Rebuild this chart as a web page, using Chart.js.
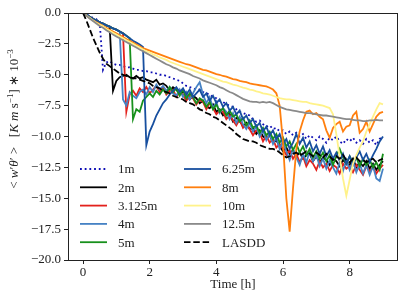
<!DOCTYPE html>
<html><head><meta charset="utf-8">
<script src="https://cdn.jsdelivr.net/npm/chart.js@4/dist/chart.umd.min.js"></script>
<style>html,body{margin:0;padding:0;background:#fff}#wrap{width:407px;height:305px}</style>
</head><body><div id="wrap"><canvas id="c" width="407" height="305"></canvas></div>
<script>
const hours = [0,0.1,0.2,0.3,0.4,0.5,0.6,0.7,0.8,0.9,
 1.0,1.1,1.2,1.3,1.4,1.5,1.6,1.7,1.8,1.9,
 2.0,2.1,2.2,2.3,2.4,2.5,2.6,2.7,2.8,2.9,
 3.0,3.1,3.2,3.3,3.4,3.5,3.6,3.7,3.8,3.9,
 4.0,4.1,4.2,4.3,4.4,4.5,4.6,4.7,4.8,4.9,
 5.0,5.1,5.2,5.3,5.4,5.5,5.6,5.7,5.8,5.9,
 6.0,6.1,6.2,6.3,6.4,6.5,6.6,6.7,6.8,6.9,
 7.0,7.1,7.2,7.3,7.4,7.5,7.6,7.7,7.8,7.9,
 8.0,8.1,8.2,8.3,8.4,8.5,8.6,8.7,8.8,8.9,
 9.0];

const s1m = [0,-0.1,-0.25,-0.4,-0.5,-0.7,-4.6,-4.0,-3.9,-4.1,
 -4.2,-4.2,-4.3,-4.4,-4.4,-4.5,-4.6,-4.6,-4.7,-4.7,
 -4.8,-4.8,-4.9,-5.0,-5.0,-5.1,-5.2,-5.3,-5.4,-5.5,
 -5.7,-5.9,-6.0,-6.1,-6.2,-6.2,-6.4,-6.5,-6.6,-6.8,
 -6.9,-7.1,-7.2,-7.4,-7.5,-7.6,-7.8,-8.0,-8.1,-8.2,
 -8.3,-8.6,-8.8,-8.7,-9.0,-9.2,-9.1,-9.4,-9.3,-9.6,
 -9.5,-9.8,-9.6,-9.9,-9.7,-10.0,-9.8,-10.2,-9.9,-10.1,
 -10.3,-10.0,-10.2,-10.5,-10.1,-10.3,-10.0,-10.4,-10.6,-10.2,
 -10.4,-10.1,-10.5,-10.3,-10.6,-10.2,-10.5,-10.3,-10.7,-10.2,
 -10.0];

const s2m = [0,-0.15,-0.3,-0.5,-0.6,-0.75,-0.85,-1.0,-1.1,-6.3,
 -5.5,-5.2,-5.1,-5.0,-5.2,-5.3,-5.1,-5.3,-5.2,-5.4,
 -5.5,-5.6,-5.4,-5.8,-5.7,-5.9,-6.3,-6.0,-6.2,-6.6,
 -6.4,-6.5,-7.0,-6.7,-6.9,-7.3,-7.1,-7.6,-7.7,-7.4,
 -8.0,-7.8,-8.3,-8.1,-8.2,-8.8,-8.5,-8.7,-9.2,-8.9,
 -9.4,-9.3,-9.8,-9.5,-10.0,-10.2,-9.9,-10.5,-10.3,-10.8,
 -11.2,-10.9,-11.4,-11.1,-11.6,-11.3,-11.8,-11.5,-11.4,-12.0,
 -11.6,-12.1,-11.7,-11.9,-12.3,-11.8,-12.0,-12.4,-11.9,-12.2,
 -12.3,-11.8,-12.5,-12.1,-12.4,-12.0,-12.6,-12.2,-12.7,-12.3,
 -12.0];

const s3125m = [0,-0.15,-0.3,-0.5,-0.6,-0.75,-0.85,-1.0,-1.1,-1.25,
 -1.35,-1.5,-1.65,-8.0,-6.6,-6.3,-6.7,-6.1,-6.4,-6.0,
 -6.5,-6.2,-5.9,-6.4,-6.0,-6.6,-6.3,-6.2,-6.8,-6.4,
 -6.6,-7.1,-6.7,-6.9,-7.4,-7.0,-7.2,-7.8,-7.3,-7.7,
 -8.2,-7.9,-8.0,-8.6,-8.3,-8.7,-9.1,-8.6,-9.3,-9.0,
 -9.4,-9.9,-9.5,-9.7,-10.4,-9.9,-10.5,-10.2,-10.9,-10.6,
 -11.0,-11.5,-11.1,-11.8,-11.4,-12.1,-11.6,-12.4,-11.9,-12.2,
 -12.7,-12.0,-12.5,-12.2,-12.8,-12.3,-12.5,-13.0,-12.2,-12.6,
 -12.4,-12.9,-12.3,-12.7,-13.1,-12.4,-12.8,-12.5,-13.0,-12.6,
 -12.3];

const s4m = [0,-0.15,-0.3,-0.5,-0.6,-0.75,-0.85,-1.0,-1.1,-1.25,
 -1.35,-1.5,-7.0,-7.5,-6.4,-6.7,-6.9,-6.4,-6.2,-6.6,
 -6.0,-6.4,-5.8,-6.2,-5.9,-6.3,-6.0,-6.5,-6.7,-6.2,
 -6.8,-6.4,-7.0,-6.5,-6.0,-5.6,-6.6,-7.3,-6.8,-7.7,
 -7.2,-8.1,-7.7,-8.0,-8.6,-8.1,-8.9,-8.4,-9.0,-9.4,
 -8.9,-9.6,-9.2,-10.0,-9.5,-10.3,-9.8,-10.6,-10.1,-11.0,
 -10.4,-11.2,-11.9,-11.0,-11.7,-12.3,-11.4,-12.1,-11.2,-12.0,
 -11.5,-12.4,-11.8,-12.6,-11.9,-12.5,-13.0,-12.1,-12.8,-11.9,
 -12.7,-12.0,-12.9,-12.2,-13.0,-12.3,-13.1,-12.4,-13.4,-13.6,
 -12.6];

const s5m = [0,-0.15,-0.3,-0.5,-0.6,-0.75,-0.85,-1.0,-1.1,-1.25,
 -1.35,-1.5,-1.65,-1.85,-2.05,-8.6,-7.8,-8.0,-7.1,-6.8,
 -6.5,-6.8,-6.3,-6.6,-6.2,-6.5,-6.0,-6.4,-6.1,-6.7,
 -6.2,-6.9,-6.5,-6.8,-7.3,-6.9,-7.1,-7.6,-7.2,-7.8,
 -7.4,-8.0,-7.7,-8.3,-7.9,-8.4,-8.2,-8.8,-8.5,-9.1,
 -8.7,-9.3,-9.1,-9.7,-9.3,-9.9,-9.6,-10.2,-9.8,-10.5,
 -10.1,-10.8,-10.4,-11.1,-10.6,-11.3,-10.8,-11.5,-11.0,-11.7,
 -11.2,-11.8,-11.3,-12.0,-11.5,-12.3,-11.6,-11.0,-11.7,-12.2,
 -11.6,-12.1,-11.7,-12.4,-11.8,-12.3,-11.9,-12.5,-12.1,-12.7,
 -11.4];

const s625m = [0,-0.15,-0.3,-0.5,-0.6,-0.75,-0.85,-1.0,-1.1,-1.25,
 -1.35,-1.5,-1.65,-1.85,-2.05,-2.25,-2.4,-2.55,-2.75,-10.7,
 -9.6,-9.0,-8.3,-7.8,-7.3,-7.0,-6.6,-6.3,-6.0,-6.4,
 -6.1,-6.6,-6.2,-6.8,-6.5,-6.2,-6.8,-6.5,-7.1,-6.7,
 -7.3,-7.0,-7.6,-7.3,-7.9,-7.6,-8.2,-7.9,-8.6,-8.3,
 -8.9,-8.6,-9.2,-8.9,-9.6,-9.2,-9.9,-9.5,-10.2,-9.8,
 -10.6,-10.2,-11.0,-10.5,-9.8,-10.6,-10.1,-10.9,-10.4,-11.2,
 -10.7,-11.4,-10.8,-11.6,-11.1,-11.8,-11.3,-12.0,-11.4,-12.2,
 -11.6,-12.3,-11.7,-11.2,-11.9,-11.4,-12.1,-11.5,-11.0,-10.4,
 -10.0];

const s8m = [0,-0.2,-0.4,-0.6,-0.75,-0.9,-1.05,-1.2,-1.35,-1.5,
 -1.65,-1.8,-1.95,-2.1,-2.25,-2.4,-2.55,-2.7,-2.85,-2.95,
 -3.05,-3.15,-3.25,-3.35,-3.45,-3.55,-3.65,-3.75,-3.85,-3.95,
 -4.05,-4.15,-4.2,-4.3,-4.4,-4.5,-4.6,-4.65,-4.75,-4.85,
 -4.95,-5.0,-5.1,-5.15,-5.25,-5.35,-5.4,-5.5,-5.55,-5.6,
 -5.7,-5.75,-5.8,-5.85,-5.9,-5.95,-6.05,-6.2,-6.5,-7.5,
 -10.5,-15.0,-17.7,-14.2,-11.0,-9.6,-8.7,-8.0,-7.9,-8.2,
 -8.1,-8.4,-8.6,-9.5,-10.1,-9.3,-9.0,-8.8,-9.6,-9.2,
 -9.1,-8.3,-8.0,-9.7,-9.4,-8.8,-9.6,-9.0,-8.4,-8.1,
 -8.0];

const s10m = [0,-0.2,-0.4,-0.6,-0.8,-0.95,-1.1,-1.3,-1.45,-1.6,
 -1.75,-1.9,-2.05,-2.2,-2.35,-2.5,-2.65,-2.8,-2.95,-3.1,
 -3.2,-3.35,-3.45,-3.6,-3.7,-3.8,-3.95,-4.05,-4.15,-4.25,
 -4.35,-4.45,-4.55,-4.65,-4.75,-4.85,-4.95,-5.05,-5.15,-5.25,
 -5.35,-5.45,-5.55,-5.6,-5.7,-5.8,-5.85,-5.95,-6.05,-6.1,
 -6.2,-6.25,-6.35,-6.4,-6.5,-6.55,-6.6,-6.7,-6.8,-6.9,
 -6.95,-7.0,-7.0,-7.05,-7.1,-7.15,-7.2,-7.2,-7.3,-7.35,
 -7.4,-7.45,-7.5,-7.6,-7.7,-8.2,-9.8,-11.6,-13.4,-14.8,
 -13.5,-12.2,-11.5,-10.9,-10.4,-9.6,-9.0,-8.4,-7.8,-7.3,
 -7.4];

const s125m = [0,-0.2,-0.45,-0.65,-0.85,-1.05,-1.2,-1.4,-1.55,-1.75,
 -1.9,-2.05,-2.2,-2.35,-2.5,-2.65,-2.8,-2.95,-3.1,-3.25,
 -3.4,-3.55,-3.7,-3.85,-4.0,-4.15,-4.25,-4.4,-4.5,-4.65,
 -4.75,-4.85,-4.95,-5.1,-5.2,-5.3,-5.45,-5.55,-5.65,-5.75,
 -5.85,-6.0,-6.1,-6.25,-6.4,-6.5,-6.65,-6.8,-6.95,-7.05,
 -7.15,-7.2,-7.2,-7.25,-7.2,-7.25,-7.2,-7.3,-7.45,-7.6,
 -7.7,-7.8,-7.85,-7.9,-7.95,-8.0,-8.05,-8.1,-8.1,-8.15,
 -8.2,-8.25,-8.3,-8.3,-8.35,-8.4,-8.45,-8.5,-8.55,-8.6,
 -8.6,-8.65,-8.7,-8.7,-8.75,-8.75,-8.7,-8.7,-8.65,-8.7,
 -8.7];

const sLASDD = [0,-0.6,-1.3,-2.0,-2.6,-3.2,-3.7,-4.1,-4.3,-4.5,
 -4.7,-4.9,-5.0,-5.1,-5.2,-5.3,-5.3,-5.4,-5.5,-5.6,
 -5.7,-5.9,-6.0,-6.1,-6.3,-6.4,-6.5,-6.7,-6.8,-6.9,
 -7.0,-7.2,-7.3,-7.4,-7.6,-7.8,-7.9,-8.1,-8.2,-8.4,
 -8.5,-8.7,-8.9,-9.1,-9.3,-9.5,-9.8,-10.0,-10.2,-10.3,
 -10.4,-10.4,-10.5,-10.7,-10.8,-10.9,-11.0,-11.0,-11.1,-11.3,
 -11.5,-11.7,-11.6,-11.4,-11.3,-11.5,-11.4,-11.2,-11.4,-11.6,
 -11.3,-11.5,-11.7,-11.4,-11.6,-11.9,-11.6,-11.8,-11.5,-11.9,
 -12.1,-11.8,-11.7,-12.0,-11.9,-12.1,-11.9,-11.8,-12.1,-11.9,
 -11.8];

const seriesLabels = ['1m','2m','3.125m','4m','5m','6.25m','8m','10m','12.5m','LASDD'];
const seriesValues = [s1m,s2m,s3125m,s4m,s5m,s625m,s8m,s10m,s125m,sLASDD];
const xTickValues = [0,2,4,6,8];
const yTickValues = [0,-2.5,-5,-7.5,-10,-12.5,-15,-17.5,-20];

const styles = [
  {c:'#0c0cb4', dash:[1.8,2.9]},
  {c:'#000000', dash:[]},
  {c:'#e3211c', dash:[]},
  {c:'#4682c4', dash:[]},
  {c:'#17901c', dash:[]},
  {c:'#174f9f', dash:[]},
  {c:'#ff7f0e', dash:[]},
  {c:'#fff28a', dash:[]},
  {c:'#8a8a8a', dash:[]},
  {c:'#000000', dash:[6.5,2.8]}
];

const FONT = '"Liberation Serif", "Times New Roman", serif';

const datasets = seriesLabels.map((lab, i) => ({
  label: lab,
  data: hours.map((h, k) => ({x: h, y: seriesValues[i][k]})),
  borderColor: styles[i].c,
  backgroundColor: styles[i].c,
  borderWidth: 1.8,
  borderDash: styles[i].dash,
  pointRadius: 0,
  tension: 0,
  fill: false,
  order: seriesLabels.length - 1 - i
}));

const decor = {
  id: 'decor',
  afterDraw(chart) {
    const ctx = chart.ctx, a = chart.chartArea;
    ctx.save();
    ctx.strokeStyle = '#222';
    ctx.lineWidth = 1;
    ctx.setLineDash([]);
    ctx.strokeRect(Math.round(a.left) + 0.5, Math.round(a.top) + 0.5,
                   Math.round(a.right - a.left) - 1, Math.round(a.bottom - a.top));
    ctx.font = '13px ' + FONT;
    ctx.textBaseline = 'middle';
    ctx.textAlign = 'left';
    chart.data.datasets.forEach((d, i) => {
      const col = i < 5 ? 0 : 1, row = i % 5;
      const x0 = col ? 184 : 80;
      const y = 169 + row * 18.3;
      ctx.strokeStyle = d.borderColor;
      ctx.lineWidth = d.borderWidth;
      ctx.setLineDash(d.borderDash || []);
      ctx.beginPath(); ctx.moveTo(x0, y); ctx.lineTo(x0 + 27, y); ctx.stroke();
      ctx.setLineDash([]);
      ctx.fillStyle = '#222';
      ctx.fillText(d.label, x0 + 38, y + 1);
    });
    ctx.textAlign = 'center';
    ctx.fillText('Time [h]', (a.left + a.right) / 2, 285);
    const norm = '13px ' + FONT, ital = 'italic 13px ' + FONT, sup = '9px ' + FONT;
    const segs = [
      {t:'< ', f:norm}, {t:'w', f:ital}, {t:'′', f:norm}, {t:'θ', f:ital}, {t:'′ >', f:norm},
      {t:'   [', f:norm}, {t:'K', f:ital}, {t:' ', f:norm}, {t:'m', f:ital}, {t:' s', f:norm},
      {t:'−1', f:sup, dy:-5}, {t:'] ∗ 10', f:norm}, {t:'−3', f:sup, dy:-5}
    ];
    let total = 0;
    segs.forEach(s => { ctx.font = s.f; s.w = ctx.measureText(s.t).width; total += s.w; });
    ctx.translate(18, 119);
    ctx.rotate(-Math.PI / 2);
    ctx.textAlign = 'left';
    ctx.textBaseline = 'alphabetic';
    let u = -total / 2;
    segs.forEach(s => { ctx.font = s.f; ctx.fillText(s.t, u, s.dy || 0); u += s.w; });
    ctx.restore();
  }
};

new Chart(document.getElementById('c'), {
  type: 'line',
  data: { datasets },
  options: {
    responsive: false,
    animation: false,
    events: [],
    layout: { padding: { top: 13, right: 9, left: 0, bottom: 0 } },
    plugins: { legend: { display: false }, tooltip: { enabled: false } },
    scales: {
      x: {
        type: 'linear', min: -0.45, max: 9.45,
        afterFit(s) { s.height = 45; },
        afterBuildTicks(s) { s.ticks = xTickValues.map(v => ({value: v})); },
        grid: { drawOnChartArea: false, drawTicks: true, tickLength: 4, color: '#222' },
        border: { display: false },
        ticks: { color: '#222', padding: 1, font: { family: FONT, size: 13 }, maxRotation: 0,
                 callback: v => String(v) }
      },
      y: {
        type: 'linear', min: -20, max: 0,
        afterFit(s) { s.width = 68; },
        afterBuildTicks(s) { s.ticks = yTickValues.map(v => ({value: v})); },
        grid: { drawOnChartArea: false, drawTicks: true, tickLength: 4, color: '#222' },
        border: { display: false },
        ticks: { color: '#222', padding: 3, font: { family: FONT, size: 13 },
                 callback: v => (v === 0 ? '0.0' : v.toFixed(1).replace('-', '−')) }
      }
    }
  },
  plugins: [decor]
});
</script>
</body></html>
